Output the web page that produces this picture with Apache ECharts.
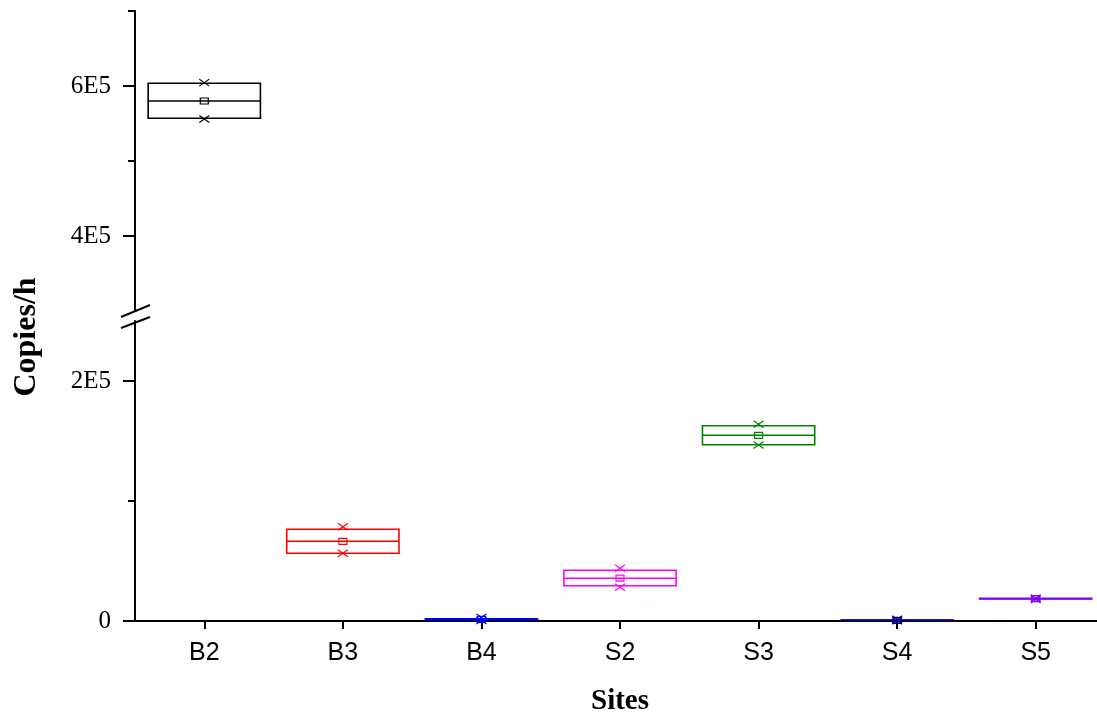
<!DOCTYPE html>
<html>
<head>
<meta charset="utf-8">
<script src="https://cdn.jsdelivr.net/npm/echarts@6/dist/echarts.min.js"></script>
<style>
  html, body { margin: 0; padding: 0; background: #ffffff; }
  #chart { width: 1097px; height: 720px; }
</style>
</head>
<body>
<div id="chart"></div>
<script>
// Sampling sites and their box statistics (copies per hour)
const sites = ['B2', 'B3', 'B4', 'S2', 'S3', 'S4', 'S5'];
const q1Values     = [557000, 56400, 1000, 29400, 146900, 300, 18300];
const medianValues = [580000, 66400, 1400, 35600, 154750, 600, 18600];
const q3Values     = [603600, 76400, 1800, 42250, 162750, 800, 18900];
const meanValues   = [580000, 66400, 1400, 35800, 154750, 600, 18600];
const minValues    = [556000, 56400, 500, 28100, 146700, 200, 18000];
const maxValues    = [604500, 78600, 3000, 43900, 163900, 1500, 19200];
const siteColors   = ['#000000', '#ff0000', '#0000ff', '#ff00ff', '#008000', '#000080', '#8000ff'];

// Broken y axis: lower segment 0..2.5E5, upper segment 3E5..7E5
const lowerRange = [0, 250000];
const upperRange = [300000, 700000];
const lowerMajorTicks = [0, 200000];
const lowerMinorTicks = [100000];
const upperMajorTicks = [400000, 600000];
const upperMinorTicks = [500000, 700000];
const tickLabel = v => (v === 0 ? '0' : (v / 100000) + 'E5');

function rowsFor(inUpper) {
  const rows = [];
  sites.forEach((s, i) => {
    const upper = medianValues[i] > lowerRange[1];
    if (upper === inUpper) {
      rows.push([i, q1Values[i], medianValues[i], q3Values[i], meanValues[i], minValues[i], maxValues[i]]);
    }
  });
  return rows;
}

function renderBox(params, api) {
  const i = api.value(0);
  const color = siteColors[i];
  const band = api.size([1, 0])[0];
  const half = band * 0.405;
  const cx = api.coord([i, api.value(2)])[0];
  const y = v => api.coord([i, v])[1];
  const yq1 = y(api.value(1)), ymed = y(api.value(2)), yq3 = y(api.value(3));
  const ymean = y(api.value(4)), ymin = y(api.value(5)), ymax = y(api.value(6));
  const cross = (yy) => [
    { type: 'line', shape: { x1: cx - 5, y1: yy - 3.5, x2: cx + 5, y2: yy + 3.5 }, style: { stroke: color, lineWidth: 1.2 } },
    { type: 'line', shape: { x1: cx - 5, y1: yy + 3.5, x2: cx + 5, y2: yy - 3.5 }, style: { stroke: color, lineWidth: 1.2 } }
  ];
  return {
    type: 'group',
    children: [
      { type: 'rect', shape: { x: cx - half, y: yq3, width: 2 * half, height: Math.max(yq1 - yq3, 0.5) }, style: { stroke: color, lineWidth: 1.6, fill: null } },
      { type: 'line', shape: { x1: cx - half, y1: ymed, x2: cx + half, y2: ymed }, style: { stroke: color, lineWidth: 1.6 } },
      { type: 'rect', shape: { x: cx - 4, y: ymean - 3, width: 8, height: 6 }, style: { stroke: color, lineWidth: 1.2, fill: null } }
    ].concat(cross(ymax), cross(ymin))
  };
}

const serif = '"Liberation Serif", "Times New Roman", serif';
const sans = '"Liberation Sans", Arial, sans-serif';

function valueAxis(grid, range, ticks, showLabels, showLine, tickLen) {
  return {
    type: 'value',
    gridIndex: grid,
    position: 'left',
    offset: 0,
    min: range[0],
    max: range[1],
    splitLine: { show: false },
    axisLine: { show: showLine, onZero: false, lineStyle: { color: '#000', width: 2 } },
    axisTick: { show: true, inside: false, length: tickLen, customValues: ticks, lineStyle: { color: '#000', width: 2 } },
    axisLabel: {
      show: showLabels,
      customValues: ticks,
      formatter: tickLabel,
      margin: 24,
      color: '#000',
      fontFamily: serif,
      fontSize: 25
    }
  };
}

const chart = echarts.init(document.getElementById('chart'), null, { renderer: 'canvas' });
chart.setOption({
  backgroundColor: '#ffffff',
  animation: false,
  grid: [
    { left: 135, top: 321, width: 970, height: 300, outerBoundsMode: 'none', containLabel: false },
    { left: 135, top: 11, width: 970, height: 300, outerBoundsMode: 'none', containLabel: false }
  ],
  xAxis: [
    {
      type: 'category',
      gridIndex: 0,
      data: sites,
      boundaryGap: true,
      axisLine: { show: true, onZero: false, lineStyle: { color: '#000', width: 2 } },
      axisTick: { show: true, alignWithLabel: true, inside: false, length: 8, lineStyle: { color: '#000', width: 2 } },
      axisLabel: { color: '#000', fontFamily: sans, fontSize: 25, margin: 20 },
      splitLine: { show: false },
      name: 'Sites',
      nameLocation: 'middle',
      nameGap: 66,
      nameTextStyle: { color: '#000', fontFamily: serif, fontWeight: 'bold', fontSize: 29 }
    },
    {
      type: 'category',
      gridIndex: 1,
      data: sites,
      boundaryGap: true,
      show: false
    }
  ],
  yAxis: [
    valueAxis(0, lowerRange, lowerMajorTicks, true, true, 12),
    valueAxis(0, lowerRange, lowerMinorTicks, false, false, 7),
    valueAxis(1, upperRange, upperMajorTicks, true, true, 12),
    valueAxis(1, upperRange, upperMinorTicks, false, false, 7)
  ],
  graphic: [
    {
      type: 'text',
      x: 27,
      y: 337,
      rotation: Math.PI / 2,
      style: {
        text: 'Copies/h',
        fill: '#000',
        fontFamily: serif,
        fontWeight: 'bold',
        fontSize: 32,
        align: 'center',
        verticalAlign: 'middle'
      }
    },
    { type: 'line', shape: { x1: 121, y1: 317, x2: 150, y2: 305 }, style: { stroke: '#000', lineWidth: 2 } },
    { type: 'line', shape: { x1: 121, y1: 328, x2: 150, y2: 317 }, style: { stroke: '#000', lineWidth: 2 } }
  ],
  series: [
    {
      type: 'custom',
      xAxisIndex: 0,
      yAxisIndex: 0,
      renderItem: renderBox,
      encode: { x: 0, y: [1, 2, 3, 4, 5, 6] },
      data: rowsFor(false),
      clip: false
    },
    {
      type: 'custom',
      xAxisIndex: 1,
      yAxisIndex: 2,
      renderItem: renderBox,
      encode: { x: 0, y: [1, 2, 3, 4, 5, 6] },
      data: rowsFor(true),
      clip: false
    }
  ]
});
</script>
</body>
</html>
